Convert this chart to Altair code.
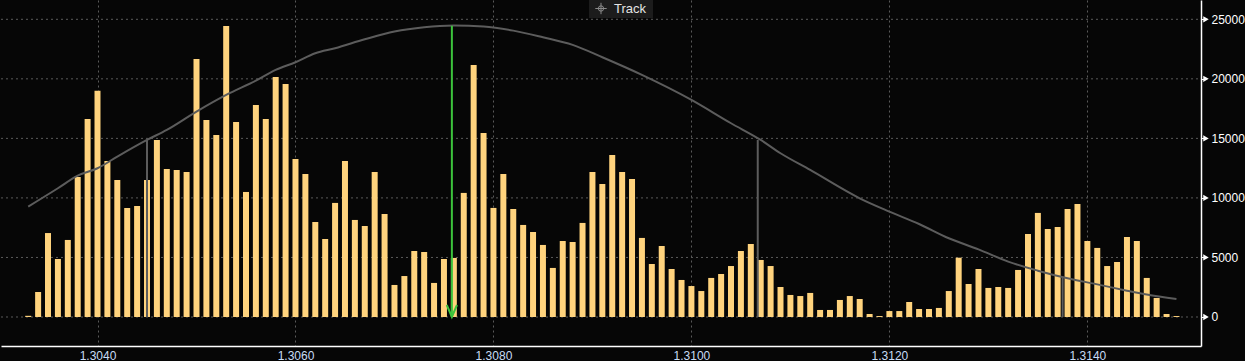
import altair as alt
import pandas as pd

# ---- data ----
prices = [
    1.3033, 1.3034, 1.3035, 1.3036, 1.3037, 1.3038, 1.3039, 1.3040, 1.3041, 1.3042,
    1.3043, 1.3044, 1.3045, 1.3046, 1.3047, 1.3048, 1.3049, 1.3050, 1.3051, 1.3052,
    1.3053, 1.3054, 1.3055, 1.3056, 1.3057, 1.3058, 1.3059, 1.3060, 1.3061, 1.3062,
    1.3063, 1.3064, 1.3065, 1.3066, 1.3067, 1.3068, 1.3069, 1.3070, 1.3071, 1.3072,
    1.3073, 1.3074, 1.3075, 1.3076, 1.3077, 1.3078, 1.3079, 1.3080, 1.3081, 1.3082,
    1.3083, 1.3084, 1.3085, 1.3086, 1.3087, 1.3088, 1.3089, 1.3090, 1.3091, 1.3092,
    1.3093, 1.3094, 1.3095, 1.3096, 1.3097, 1.3098, 1.3099, 1.3100, 1.3101, 1.3102,
    1.3103, 1.3104, 1.3105, 1.3106, 1.3107, 1.3108, 1.3109, 1.3110, 1.3111, 1.3112,
    1.3113, 1.3114, 1.3115, 1.3116, 1.3117, 1.3118, 1.3119, 1.3120, 1.3121, 1.3122,
    1.3123, 1.3124, 1.3125, 1.3126, 1.3127, 1.3128, 1.3129, 1.3130, 1.3131, 1.3132,
    1.3133, 1.3134, 1.3135, 1.3136, 1.3137, 1.3138, 1.3139, 1.3140, 1.3141, 1.3142,
    1.3143, 1.3144, 1.3145, 1.3146, 1.3147, 1.3148, 1.3149,
]
volumes = [
    100, 2100, 7050, 4870, 6470, 11760, 16630, 19010, 13100, 11510,
    9160, 9320, 11510, 14870, 12430, 12350, 12180, 21670, 16550, 15290,
    24440, 16380, 10500, 17810, 16630, 20160, 19570, 13270, 12010, 7980,
    6550, 9580, 13100, 8150, 7640, 12180, 8650, 2690, 3440, 5540,
    5460, 2860, 4870, 4960, 10420, 21170, 15460, 9160, 12010, 9070,
    7730, 7140, 6050, 4120, 6380, 6300, 7900, 12180, 11170, 13610,
    12180, 11590, 6640, 4450, 5960, 4030, 3110, 2600, 2180, 3280,
    3610, 4280, 5540, 6130, 4790, 4280, 2520, 1850, 1760, 2020,
    590, 590, 1430, 1760, 1510, 250, 80, 500, 500, 1260,
    670, 670, 760, 2180, 4980, 2770, 4030, 2440, 2520, 2440,
    3950, 6970, 8740, 7390, 7560, 9070, 9490, 6380, 5800, 4280,
    4620, 6720, 6380, 3280, 1600, 250, 80,
]

curve_prices = [
    1.3033, 1.3036, 1.3038, 1.3040, 1.3042, 1.3045, 1.3047, 1.3050, 1.3053, 1.3056,
    1.3058, 1.3060, 1.3062, 1.3064, 1.3067, 1.3070, 1.3073, 1.3076, 1.3079, 1.3082,
    1.3085, 1.3088, 1.3091, 1.3095, 1.3100, 1.3104, 1.3107, 1.3109, 1.3112, 1.3117,
    1.3120, 1.3123, 1.3126, 1.3129, 1.3132, 1.3135, 1.3138, 1.3141, 1.3144, 1.3146,
    1.3149,
]
curve_values = [
    9270, 10810, 11870, 12490, 13470, 14870, 15710, 17250, 18650, 19850,
    20750, 21390, 22150, 22570, 23320, 23970, 24330, 24470, 24390, 24050,
    23490, 22850, 21810, 20330, 18230, 16270, 14870, 13750, 12350, 9970,
    8850, 7810, 6610, 5680, 4650, 3890, 3250, 2740, 2210, 1880,
    1510,
]

marker_prices = [1.3045, 1.30758, 1.31067, 1.31375]
marker_tops = [14870, 24450, 14870, 3280]
marker_kind = ["band", "mean", "band", "band"]

x_ticks = [1.3040, 1.3060, 1.3080, 1.3100, 1.3120, 1.3140]
y_grid = [0, 5000, 10000, 15000, 20000, 25000]
y_ticks = [0, 2500, 5000, 7500, 10000, 12500, 15000, 17500, 20000, 22500, 25000]

# ---- styling ----
BG = "#060606"
BAR = "#FFD37D"
GRID = "#5a5a5a"
CURVE = "#5c5c5c"
GREEN = "#3cc33c"
XLAB = "#c8dcf5"
FONT = "Liberation Sans"

x_scale = alt.Scale(domain=[1.303025, 1.315148], nice=False, zero=False, padding=0)
y_scale = alt.Scale(domain=[-2436, 26621], nice=False, zero=False, padding=0)

bars_df = pd.DataFrame({"price": prices, "volume": volumes})
curve_df = pd.DataFrame({"price": curve_prices, "value": curve_values})
mark_df = pd.DataFrame({"price": marker_prices, "top": marker_tops, "kind": marker_kind, "base": 0})
grid_df = pd.DataFrame({"v": y_grid})
ytick_df = pd.DataFrame({"v": y_grid})
one = pd.DataFrame({"a": [0]})

x_axis = alt.Axis(
    values=x_ticks, format=".4f", grid=True, gridColor=GRID, gridDash=[2, 3],
    gridWidth=1, ticks=False, domainColor="#ffffff", domainWidth=1.5,
    labelColor=XLAB, labelFont=FONT, labelFontSize=12, labelPadding=4, title=None,
    labelFlush=False,
)
y_axis = alt.Axis(
    orient="right", values=y_ticks, format="d", grid=False,
    labelExpr="datum.value % 5000 === 0 ? datum.label : ''",
    tickColor="#ffffff", tickSize=4, domainColor="#ffffff", domainWidth=1.5,
    labelColor="#ffffff", labelFont=FONT, labelFontSize=12, labelPadding=6, title=None,
)

hgrid = alt.Chart(grid_df).mark_rule(color=GRID, strokeDash=[2, 3], strokeWidth=1).encode(
    y=alt.Y("v:Q", scale=y_scale, axis=y_axis),
    x=alt.value(0), x2=alt.value(1200),
)

bars = alt.Chart(bars_df).mark_bar(color=BAR, size=6).encode(
    x=alt.X("price:Q", scale=x_scale, axis=x_axis),
    y=alt.Y("volume:Q", scale=y_scale),
    y2=alt.datum(0),
)

curve = alt.Chart(curve_df).mark_line(color=CURVE, strokeWidth=2, interpolate="monotone").encode(
    x=alt.X("price:Q", scale=x_scale),
    y=alt.Y("value:Q", scale=y_scale),
)

band_lines = alt.Chart(mark_df).transform_filter("datum.kind == 'band'").mark_rule(
    color=CURVE, strokeWidth=2
).encode(
    x=alt.X("price:Q", scale=x_scale),
    y=alt.Y("top:Q", scale=y_scale),
    y2="base:Q",
)

mean_line = alt.Chart(mark_df).transform_filter("datum.kind == 'mean'").mark_rule(
    color=GREEN, strokeWidth=2
).encode(
    x=alt.X("price:Q", scale=x_scale),
    y=alt.Y("top:Q", scale=y_scale),
    y2="base:Q",
)

arrow_head = alt.Chart(mark_df).transform_filter("datum.kind == 'mean'").mark_point(
    shape="M -0.85 -2 L 0 0 L 0.85 -2", filled=False, stroke=GREEN, strokeWidth=2,
    size=144, opacity=1,
).encode(
    x=alt.X("price:Q", scale=x_scale),
    y=alt.Y("base:Q", scale=y_scale),
)

y_tri = alt.Chart(ytick_df).mark_point(
    shape="triangle-right", filled=True, color="#ffffff", size=40, opacity=1
).encode(
    y=alt.Y("v:Q", scale=y_scale),
    x=alt.value(1205),
)

track_box = alt.Chart(one).mark_rect(color="#1c1c1c").encode(
    x=alt.value(588), x2=alt.value(652), y=alt.value(0), y2=alt.value(18),
)
track_ring = alt.Chart(one).mark_point(
    shape="circle", filled=False, stroke="#8a8a8a", strokeWidth=1, size=28, opacity=1
).encode(x=alt.value(600), y=alt.value(8.5))
track_cross = alt.Chart(one).mark_point(
    shape="M -1 0 L 1 0 M 0 -1 L 0 1", filled=False, stroke="#8a8a8a", strokeWidth=1,
    size=130, opacity=1,
).encode(x=alt.value(600), y=alt.value(8.5))
track_text = alt.Chart(one).mark_text(
    text="Track", align="left", baseline="middle", font=FONT, fontSize=13, color="#e4e4e4"
).encode(x=alt.value(613), y=alt.value(9))

chart = alt.layer(
    hgrid, bars, curve, band_lines, mean_line, arrow_head, y_tri,
    track_box, track_ring, track_cross, track_text,
).properties(
    width=1200, height=346, background=BG, padding=0,
).configure_view(stroke=None, fill=BG)

chart.save("out.html", embed_options={"renderer": "svg", "actions": False})
